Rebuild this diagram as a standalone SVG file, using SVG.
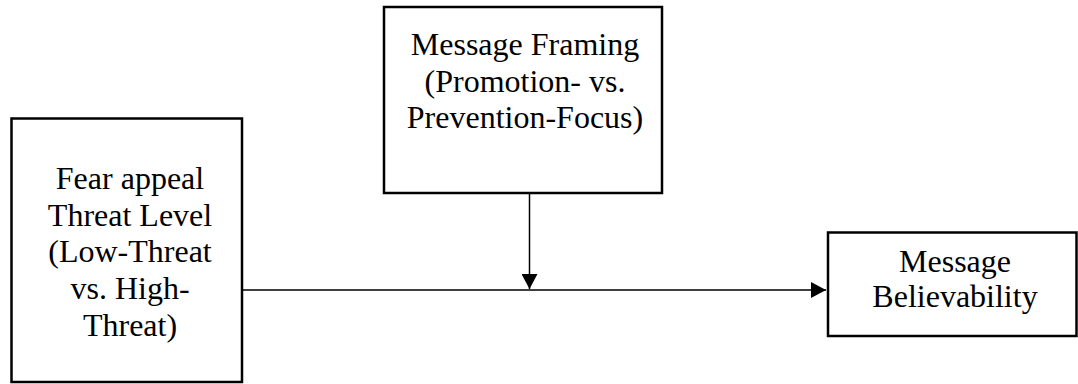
<svg xmlns="http://www.w3.org/2000/svg" width="1078" height="384" viewBox="0 0 1078 384">
  <style>
    .box { fill: #ffffff; stroke: #000000; stroke-width: 2.5; }
    .label { font-family: "Liberation Serif", "Times New Roman", serif; font-size: 32px; fill: #000000; text-anchor: middle; }
    .edge { stroke: #000000; stroke-width: 1.5; fill: none; }
  </style>
  <defs>
    <marker id="arrow" markerWidth="15" markerHeight="16" refX="15" refY="8" orient="auto" markerUnits="userSpaceOnUse">
      <path d="M0,0 L15,8 L0,16 Z" fill="#000000"/>
    </marker>
  </defs>

  <rect width="1078" height="384" fill="#ffffff"/>

  <!-- connectors -->
  <g id="connectors">
    <line class="edge" x1="243" y1="290" x2="826" y2="290" marker-end="url(#arrow)"/>
    <line class="edge" x1="529.5" y1="194" x2="529.5" y2="289" marker-end="url(#arrow)"/>
  </g>

  <!-- independent variable -->
  <g id="threat-level">
    <rect class="box" x="11.5" y="118.5" width="230.5" height="263.5"/>
    <text class="label" x="130" y="189">Fear appeal</text>
    <text class="label" x="130" y="226">Threat Level</text>
    <text class="label" x="130" y="262">(Low-Threat</text>
    <text class="label" x="130" y="299">vs. High-</text>
    <text class="label" x="130" y="336">Threat)</text>
  </g>

  <!-- moderator -->
  <g id="message-framing">
    <rect class="box" x="384" y="7" width="278" height="186"/>
    <text class="label" x="525" y="55">Message Framing</text>
    <text class="label" x="525" y="92">(Promotion- vs.</text>
    <text class="label" x="525" y="128">Prevention-Focus)</text>
  </g>

  <!-- dependent variable -->
  <g id="believability">
    <rect class="box" x="828" y="232.5" width="248.5" height="103.5"/>
    <text class="label" x="955" y="272">Message</text>
    <text class="label" x="955" y="307">Believability</text>
  </g>
</svg>
